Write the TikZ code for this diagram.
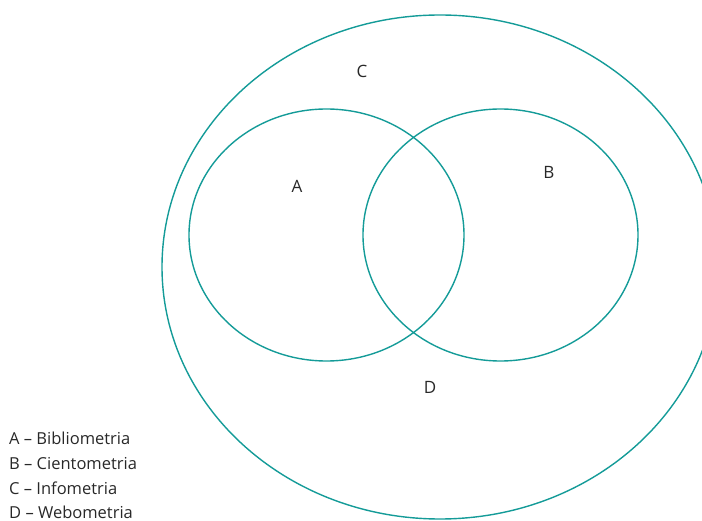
\documentclass[tikz,border=0pt]{standalone}
\usepackage{fontspec}
\setmainfont{Open Sans}
\definecolor{teal1}{RGB}{20,155,152}
\definecolor{txt}{RGB}{40,40,40}
\begin{document}
\begin{tikzpicture}[x=1pt,y=-1pt,
  venn/.style={draw=teal1,line width=1.4pt},
  lbl/.style={text=txt,font=\fontsize{17}{20}\selectfont,inner sep=0pt},
  leg/.style={text=txt,font=\fontsize{16.5}{20}\selectfont,inner sep=0pt,anchor=base west}]
\useasboundingbox (0,0) rectangle (702,521);
\clip (0,0) rectangle (702,521);
\draw[venn] (440,267) ellipse [x radius=278, y radius=252];
\draw[venn] (326.5,235) ellipse [x radius=137.5, y radius=126];
\draw[venn] (500.5,235) ellipse [x radius=137.5, y radius=126];
\node[lbl] (c) at (362,71) {C};
\node[lbl] (a) at (297,186) {A};
\node[lbl] (b) at (549,172) {B};
\node[lbl] (d) at (430,387) {D};
\node[leg] (l1) at (9,444) {A – Bibliometria};
\node[leg] (l2) at (9,469) {B – Cientometria};
\node[leg] (l3) at (9,494) {C – Infometria};
\node[leg] (l4) at (9,518) {D – Webometria};
\end{tikzpicture}
\end{document}
